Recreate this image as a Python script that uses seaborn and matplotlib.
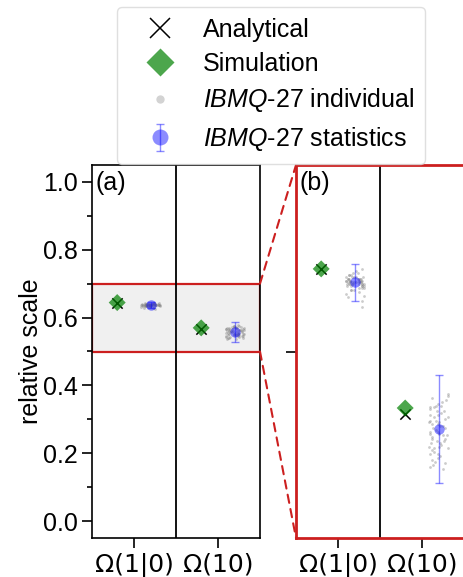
import numpy as np
import pandas as pd
import matplotlib
matplotlib.use("Agg")
import matplotlib.pyplot as plt
import seaborn as sns
from matplotlib.patches import Rectangle, ConnectionPatch
from matplotlib.lines import Line2D
from matplotlib.ticker import MultipleLocator
from matplotlib.container import ErrorbarContainer
from matplotlib.legend_handler import HandlerErrorbar

# ---------------- data ----------------
categories = ["Ω(1|0)", "Ω(10)"]
analytical = [0.6440, 0.5665]
simulation = [0.6443, 0.5697]
ibmq_mean = [0.637, 0.5584]
ibmq_err = [0.0097, 0.029]
ibmq_individual_10 = [0.641, 0.636, 0.639, 0.633, 0.638, 0.642, 0.635, 0.637, 0.640, 0.631,
                      0.638, 0.636, 0.643, 0.634, 0.639, 0.637, 0.632, 0.640, 0.636, 0.638,
                      0.635, 0.641, 0.637, 0.629, 0.639, 0.636, 0.634, 0.640, 0.638, 0.637,
                      0.633, 0.642, 0.636, 0.639, 0.635, 0.638, 0.630, 0.637, 0.641, 0.636,
                      0.639, 0.634, 0.637, 0.640, 0.635, 0.638, 0.627, 0.636, 0.639, 0.637,
                      0.644, 0.633, 0.638, 0.636, 0.640, 0.635, 0.624, 0.637, 0.639, 0.636]
ibmq_individual_1bar0 = [0.565, 0.552, 0.571, 0.548, 0.560, 0.574, 0.545, 0.557, 0.568, 0.541,
                         0.562, 0.553, 0.576, 0.549, 0.559, 0.566, 0.543, 0.570, 0.555, 0.561,
                         0.538, 0.569, 0.551, 0.563, 0.547, 0.572, 0.556, 0.544, 0.567, 0.558,
                         0.550, 0.575, 0.546, 0.564, 0.554, 0.539, 0.570, 0.557, 0.549, 0.562,
                         0.566, 0.542, 0.573, 0.553, 0.560, 0.537, 0.568, 0.556, 0.545, 0.563,
                         0.571, 0.551, 0.559, 0.540, 0.565, 0.552, 0.577, 0.548, 0.561, 0.555]
legend_labels = ["Analytical", "Simulation",
                 r"$\mathit{IBMQ}$-27 individual", r"$\mathit{IBMQ}$-27 statistics"]
zoom_range = (0.5, 0.7)

# ---------------- style ----------------
sns.set_theme(style="ticks")
plt.rcParams["font.family"] = ["Liberation Sans", "DejaVu Sans"]
plt.rcParams["mathtext.fontset"] = "custom"
plt.rcParams["mathtext.it"] = "Liberation Sans:italic"
plt.rcParams["mathtext.rm"] = "Liberation Sans"
for k in ["text.color", "axes.labelcolor", "xtick.color", "ytick.color",
          "xtick.labelcolor", "ytick.labelcolor", "axes.edgecolor"]:
    plt.rcParams[k] = "black"
FS = 18
RED = "#cc1f1f"
OFF = 0.2

np.random.seed(3)
cat_idx = np.arange(len(categories))
ind_df = pd.DataFrame({
    "x": np.concatenate([np.full(len(ibmq_individual_10), cat_idx[0] + OFF),
                         np.full(len(ibmq_individual_1bar0), cat_idx[1] + OFF)]),
    "value": ibmq_individual_10 + ibmq_individual_1bar0,
})

fig = plt.figure(figsize=(4.63, 5.77), dpi=100)
W, H = 463, 577
axa = fig.add_axes([92 / W, 1 - 538 / H, 168 / W, 373 / H])
axb = fig.add_axes([296 / W, 1 - 538 / H, 168 / W, 373 / H])


def draw(ax):
    sns.scatterplot(x=cat_idx - OFF, y=analytical, marker="x", color="black",
                    s=55, linewidth=1.1, ax=ax, zorder=3)
    sns.scatterplot(x=cat_idx - OFF, y=simulation, marker="D", color="green",
                    alpha=0.7, s=75, edgecolor="none", ax=ax, zorder=4)
    sns.stripplot(data=ind_df, x="x", y="value", native_scale=True, jitter=0.12,
                  color="gray", size=2, alpha=0.4, ax=ax, zorder=3)
    eb = ax.errorbar(cat_idx + OFF, ibmq_mean, yerr=ibmq_err, fmt="o", color="blue",
                     alpha=0.45, ms=7.5, mec="none", capsize=3, elinewidth=1, zorder=5)
    ax.axvline(0.5, color="black", lw=1.3, zorder=2)
    ax.set_xlim(-0.5, 1.5)
    ax.set_xticks(cat_idx)
    ax.set_xticklabels(categories, fontsize=FS, family="DejaVu Sans")
    ax.set_xlabel("")
    ax.tick_params(axis="both", which="major", length=7, width=1.2, labelsize=FS, color="black")
    ax.tick_params(axis="both", which="minor", length=3.5, width=1.2)
    return eb


eb_a = draw(axa)
draw(axb)

axa.set_ylim(-0.05, 1.05)
axa.yaxis.set_major_locator(MultipleLocator(0.2))
axa.yaxis.set_minor_locator(MultipleLocator(0.1))
axa.set_ylabel("relative scale", fontsize=FS, labelpad=0)
for s in axa.spines.values():
    s.set_linewidth(1.2)
    s.set_color("black")
axa.add_patch(Rectangle((-0.5, zoom_range[0]), 2, zoom_range[1] - zoom_range[0],
                        facecolor="#f0f0f0", edgecolor=RED, lw=1.6, zorder=1))
axa.text(0.02, 0.985, "(a)", transform=axa.transAxes, fontsize=FS, va="top", ha="left")

axb.set_ylim(*zoom_range)
axb.set_yticks([0.6])
axb.set_yticklabels([""])
axb.set_ylabel("")
for s in axb.spines.values():
    s.set_linewidth(2)
    s.set_color(RED)
axb.text(0.02, 0.985, "(b)", transform=axb.transAxes, fontsize=FS, va="top", ha="left")

for yv in zoom_range:
    con = ConnectionPatch(xyA=(1.5, yv), coordsA=axa.transData,
                          xyB=(-0.5, yv), coordsB=axb.transData,
                          color=RED, lw=1.5, ls=(0, (4, 3)))
    fig.add_artist(con)


def upd(h, o):
    h.update_from(o)
    if isinstance(h, Line2D) and h.get_marker() == "o":
        h.set_markersize(11.5)


handles = [
    Line2D([], [], marker="x", color="black", ls="none", ms=14, mew=1.1),
    Line2D([], [], marker="D", color="green", alpha=0.7, ls="none", ms=14, mec="none"),
    Line2D([], [], marker="o", color="lightgray", ls="none", ms=6, mec="none"),
    eb_a,
]
fig.legend(handles, legend_labels, loc="upper center", bbox_to_anchor=(271 / W, 1 - 7 / H),
           fontsize=FS, frameon=True, fancybox=True, edgecolor="#d8d8d8",
           borderaxespad=0, handlelength=2.55, handletextpad=0.45, borderpad=0.42,
           labelspacing=0.42,
           handler_map={ErrorbarContainer: HandlerErrorbar(yerr_size=0.55, update_func=upd)})

fig.savefig("out.png", dpi=100)
